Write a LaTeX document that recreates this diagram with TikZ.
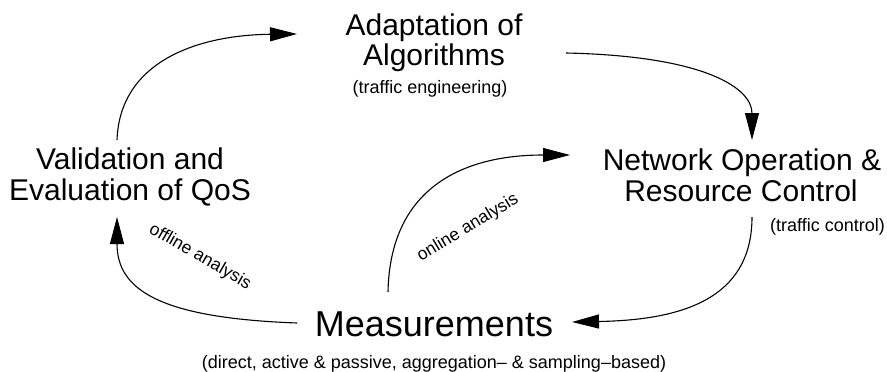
\documentclass[tikz,border=0pt]{standalone}
\usepackage{fontspec}
\setmainfont{Liberation Sans}
\usetikzlibrary{arrows.meta}
\tikzset{
  big/.style={font=\fontsize{30}{31}\selectfont, inner sep=0pt, anchor=base},
  huge/.style={font=\fontsize{36}{38}\selectfont, inner sep=0pt, anchor=base},
  small/.style={font=\fontsize{18}{19}\selectfont, inner sep=0pt, anchor=base},
  lbl/.style={font=\fontsize{17.5}{18}\selectfont, inner sep=0pt},
  arr/.style={line width=1.1pt, -{Triangle[length=27pt,width=14pt]}}
}
\begin{document}
\begin{tikzpicture}[x=1pt,y=-1pt]
\useasboundingbox (0,0) rectangle (887,372);
% text blocks
\node[big] (adapt1) at (434,35) {Adaptation of};
\node[big] (adapt2) at (434,65) {Algorithms};
\node[small] (adapt3) at (430,93) {(traffic engineering)};
\node[big] (val1) at (130,169) {Validation and};
\node[big] (val2) at (130,200) {Evaluation of QoS};
\node[big] (net1) at (742,170) {Network Operation \&};
\node[big] (net2) at (741,201) {Resource Control};
\node[small, anchor=base east] (net3) at (885,231) {(traffic control)};
\node[huge] (meas) at (434,336) {Measurements};
\node[small] (meas2) at (434,368) {(direct, active \& passive, aggregation– \& sampling–based)};
% arrow end points
\coordinate (valtop) at (117,140);
\coordinate (adaptin) at (297,34);
\coordinate (adaptout) at (566,53);
\coordinate (netin) at (752,140);
\coordinate (netout) at (752,217);
\coordinate (measin) at (572,322);
\coordinate (measleft) at (297,323);
\coordinate (valbot) at (117,217);
\coordinate (meastop) at (388,292);
\coordinate (netleft) at (570,155);
% connectors
\draw[arr] (valtop) .. controls (120,60) and (200,35) .. (adaptin);
\draw[arr] (adaptout) .. controls (705,56) and (752,88) .. (netin);
\draw[arr] (netout) .. controls (752,300) and (680,320) .. (measin);
\draw[arr] (measleft) .. controls (160,318) and (117,290) .. (valbot);
\draw[arr] (meastop) .. controls (390,190) and (460,155) .. (netleft);
% labels
\node[lbl, rotate=31] (online) at (468,228) {online analysis};
\node[lbl, rotate=-30] (offline) at (200,257) {offline analysis};
\end{tikzpicture}
\end{document}
